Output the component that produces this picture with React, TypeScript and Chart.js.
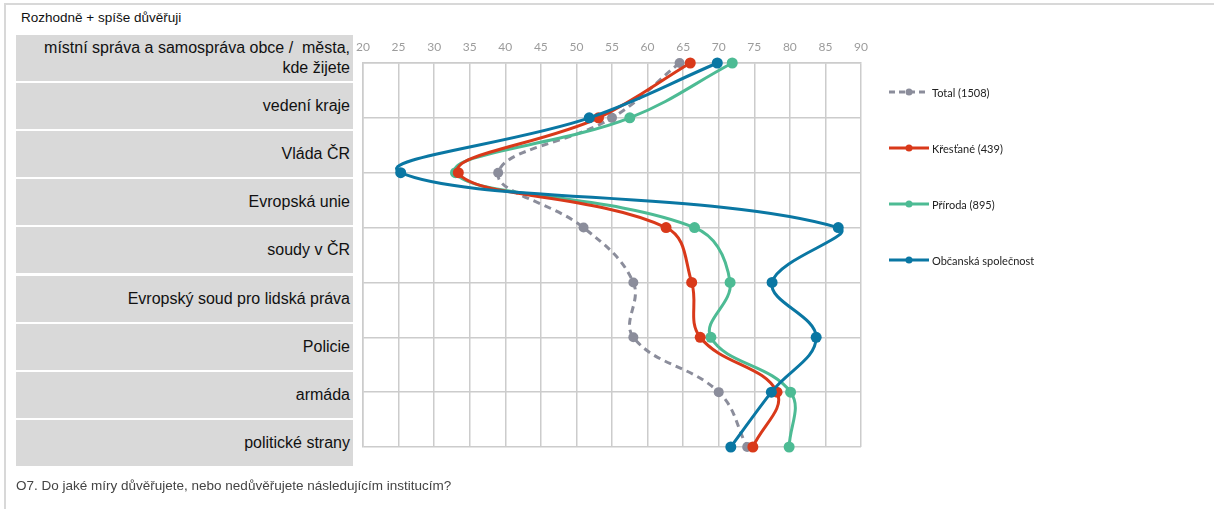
import React, { useEffect, useRef } from "react";
import { Chart, registerables } from "chart.js";

Chart.register(...registerables);

const title = "Rozhodně + spíše důvěřuji";
const footnote = "O7. Do jaké míry důvěřujete, nebo nedůvěřujete následujícím institucím?";

const categories = [
  "místní správa a samospráva obce /  města,\nkde žijete",
  "vedení kraje",
  "Vláda ČR",
  "Evropská unie",
  "soudy v ČR",
  "Evropský soud pro lidská práva",
  "Policie",
  "armáda",
  "politické strany",
];

// rows with plotted points (8 points per series)
const rowLabels = categories.slice(0, 8);

const seriesNames = ["Total (1508)", "Křesťané (439)", "Příroda (895)", "Občanská společnost"];
const seriesColors = ["#8b8d9b", "#d9391a", "#4dbb94", "#0a77a3"];

const totalValues = [64.5, 55.0, 39.0, 51.0, 58.0, 58.0, 70.0, 74.0];
const krestaneValues = [66.0, 53.1, 33.4, 62.6, 66.2, 67.4, 78.2, 74.8];
const prirodaValues = [71.9, 57.5, 33.0, 66.6, 71.6, 68.9, 80.1, 79.9];
const obcanskaValues = [69.8, 51.8, 25.3, 86.8, 77.5, 83.7, 77.4, 71.7];

const xTicks = [20, 25, 30, 35, 40, 45, 50, 55, 60, 65, 70, 75, 80, 85, 90];

const W = 1214;
const H = 509;
const PLOT_LEFT = 363;
const PLOT_RIGHT = 861;
const PLOT_TOP = 63;
const PLOT_BOTTOM = 447;

export default function App() {
  const canvasRef = useRef<HTMLCanvasElement>(null);

  useEffect(() => {
    const canvas = canvasRef.current;
    if (!canvas) return;
    const allValues = [totalValues, krestaneValues, prirodaValues, obcanskaValues];
    const datasets = allValues.map((vals, i) => ({
      label: seriesNames[i],
      data: vals.map((v, j) => ({ x: v, y: rowLabels[j] })),
      borderColor: seriesColors[i],
      backgroundColor: seriesColors[i],
      pointBackgroundColor: seriesColors[i],
      pointBorderWidth: 0,
      pointRadius: i === 0 ? 5 : 5.5,
      borderWidth: 3,
      borderDash: i === 0 ? [7, 5] : [],
      tension: 0.4,
      clip: false as any,
      order: [4, 2, 3, 1][i],
      fill: false,
    }));
    const chart = new Chart(canvas, {
      type: "line",
      data: { labels: rowLabels, datasets },
      options: {
        animation: false,
        responsive: false,
        maintainAspectRatio: false,
        indexAxis: "y",
        layout: {
          padding: { left: PLOT_LEFT, right: W - PLOT_RIGHT, top: 0, bottom: H - PLOT_BOTTOM },
        },
        plugins: { legend: { display: false }, tooltip: { enabled: false } },
        scales: {
          x: {
            type: "linear",
            position: "top",
            min: 20,
            max: 90,
            afterBuildTicks: (scale: any) => {
              scale.ticks = xTicks.map((v) => ({ value: v }));
            },
            afterFit: (scale: any) => {
              scale.height = PLOT_TOP;
            },
            ticks: {
              color: "#9c9c9c",
              font: { family: "Lato", size: 12 },
              padding: 9,
              maxRotation: 0,
            },
            grid: { color: "#cccccc", lineWidth: 1.5, drawTicks: false },
            border: { color: "#cccccc", width: 1.5 },
          },
          y: {
            type: "category",
            labels: rowLabels,
            offset: false,
            ticks: { display: false },
            grid: { color: "#cccccc", lineWidth: 1.5, drawTicks: false },
            border: { color: "#cccccc", width: 1.5 },
          },
        },
      },
    });
    return () => chart.destroy();
  }, []);

  const boxTop = 35;
  const boxStep = 48.1;

  return (
    <div style={{ position: "absolute", left: 0, top: 0, width: W, height: H, overflow: "hidden", background: "#fff" }}>
      <div
        style={{
          position: "absolute",
          left: 4,
          top: 3,
          width: W + 20,
          height: H + 20,
          borderTop: "2px solid #d8d8d8",
          borderLeft: "2px solid #d8d8d8",
        }}
      />
      <div
        style={{
          position: "absolute",
          left: 21,
          top: 10,
          fontFamily: "'Liberation Sans', Arial, sans-serif",
          fontSize: 13.5,
          color: "#111",
        }}
      >
        {title}
      </div>
      {categories.map((c, i) => (
        <div
          key={i}
          style={{
            position: "absolute",
            left: 16,
            top: boxTop + i * boxStep,
            width: 337,
            height: 46,
            background: "#d9d9d9",
            display: "flex",
            alignItems: "center",
            justifyContent: "flex-end",
            boxSizing: "border-box",
            paddingRight: 3,
            fontFamily: "'Liberation Sans', Arial, sans-serif",
            fontSize: 16,
            lineHeight: "20px",
            color: "#111",
            textAlign: "right",
            whiteSpace: "pre-wrap",
          }}
        >
          {c}
        </div>
      ))}
      <canvas ref={canvasRef} width={W} height={H} style={{ position: "absolute", left: 0, top: 0 }} />
      {seriesNames.map((n, i) => (
        <div
          key={n}
          style={{
            position: "absolute",
            left: 888,
            top: 92 + i * 56 - 8,
            height: 16,
            display: "flex",
            alignItems: "center",
            fontFamily: "Lato, 'Open Sans', sans-serif",
            fontSize: 11,
            color: "#222",
            whiteSpace: "nowrap",
          }}
        >
          <svg width={43} height={16} style={{ display: "block" }}>
            <line
              x1={1}
              y1={8}
              x2={41}
              y2={8}
              stroke={seriesColors[i]}
              strokeWidth={3}
              strokeDasharray={i === 0 ? "6,4" : undefined}
            />
            <circle cx={21} cy={8} r={3.5} fill={seriesColors[i]} />
          </svg>
          <span style={{ marginLeft: 1 }}>{n}</span>
        </div>
      ))}
      <div
        style={{
          position: "absolute",
          left: 16,
          top: 478,
          fontFamily: "'Liberation Sans', Arial, sans-serif",
          fontSize: 13.5,
          color: "#444",
        }}
      >
        {footnote}
      </div>
    </div>
  );
}
